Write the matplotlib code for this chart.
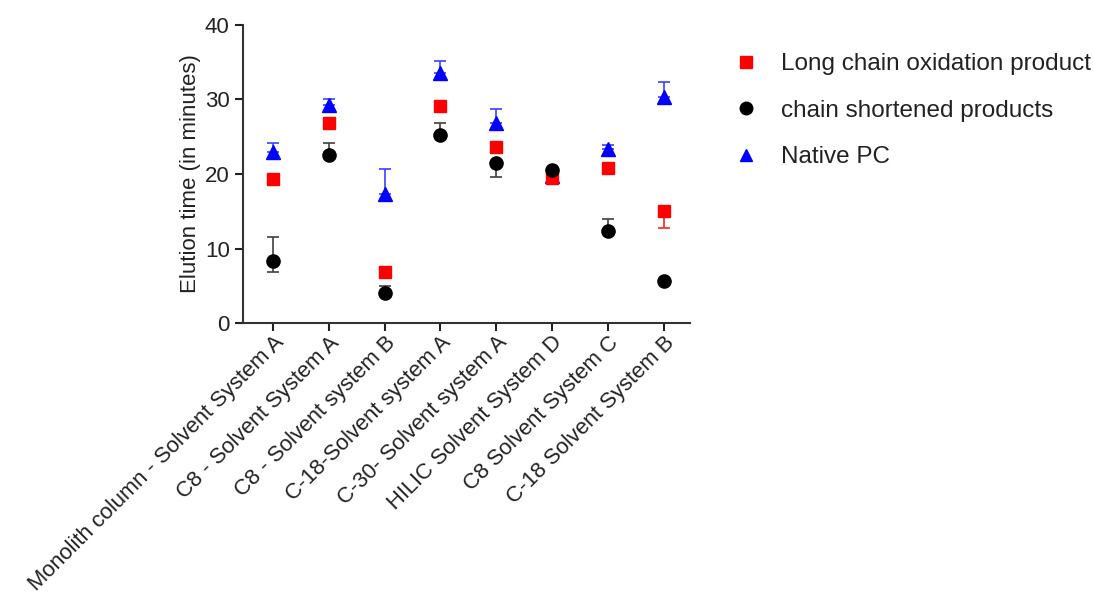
import matplotlib
matplotlib.use('Agg')
from matplotlib import pyplot as plt
import numpy as np

plt.rcParams['font.family'] = ['Liberation Sans', 'DejaVu Sans']

# columns / solvent systems
columns = ['Monolith column - Solvent System A', 'C8 - Solvent System A',
           'C8 - Solvent system B', 'C-18-Solvent system A',
           'C-30- Solvent system A', 'HILIC Solvent System D',
           'C8 Solvent System C', 'C-18 Solvent System B']

# elution times (minutes)
long_chain = [19.4, 26.9, 6.8, 29.1, 23.6, 19.5, 20.8, 15.0]
long_chain_lo = [0.0, 0.0, 0.0, 0.0, 0.0, 0.0, 0.0, 2.3]
long_chain_hi = [0.4, 0.0, 0.0, 0.0, 0.0, 0.0, 0.0, 0.0]

shortened = [8.3, 22.5, 4.0, 25.2, 21.5, 20.5, 12.4, 5.6]
shortened_lo = [1.4, 0.0, 0.0, 0.0, 1.9, 0.0, 0.0, 0.0]
shortened_hi = [3.2, 1.7, 1.0, 1.6, 0.0, 0.0, 1.6, 0.0]

native = [23.0, 29.3, 17.3, 33.6, 26.9, 19.7, 23.4, 30.3]
native_lo = [0.0, 0.0, 0.0, 0.0, 0.0, 0.0, 0.0, 0.0]
native_hi = [1.2, 0.8, 3.4, 1.5, 1.8, 0.0, 0.5, 2.1]


def main():
    x = np.arange(len(columns))
    fig = plt.figure(figsize=(10.94, 5.94), dpi=100)
    ax = fig.add_axes([0.222, 0.456, 0.409, 0.502])

    ax.errorbar(x, native, yerr=[native_lo, native_hi], fmt='^', color='#0000ff',
                ecolor='#4040ff', markersize=9.5, capsize=4.5, elinewidth=1.2,
                capthick=1.2, label='Native PC', zorder=3)
    ax.errorbar(x, long_chain, yerr=[long_chain_lo, long_chain_hi], fmt='s',
                color='#ff0000', ecolor='#ff2020', markersize=9, capsize=4.5,
                elinewidth=1.2, capthick=1.2,
                label='Long chain oxidation product', zorder=4)
    ax.errorbar(x, shortened, yerr=[shortened_lo, shortened_hi], fmt='o',
                color='black', ecolor='#404040', markersize=9.5, capsize=4.5,
                elinewidth=1.2, capthick=1.2,
                label='chain shortened products', zorder=5)

    ax.set_xlim(-0.54, 7.48)
    ax.set_ylim(0, 40)
    ax.set_yticks([0, 10, 20, 30, 40])
    ax.set_xticks(x)
    ax.set_xticklabels(columns, rotation=45, ha='right', rotation_mode='anchor')
    ax.set_ylabel('Elution time (in minutes)', fontsize=16, color='#222222',
                  labelpad=3)
    ax.tick_params(labelsize=16, colors='#222222', length=6, width=1.5)
    ax.tick_params(axis='x', pad=0.5, labelsize=15.8)
    ax.spines['top'].set_visible(False)
    ax.spines['right'].set_visible(False)
    for s in ['left', 'bottom']:
        ax.spines[s].set_linewidth(1.5)
        ax.spines[s].set_color('#333333')

    handles, labels = ax.get_legend_handles_labels()
    order = [1, 2, 0]
    fig.legend([handles[i][0] for i in order], [labels[i] for i in order],
               loc='upper left', bbox_to_anchor=(0.651, 0.947), frameon=False,
               fontsize=17.5, labelspacing=1.0, markerscale=0.95,
               handlelength=1.0, handletextpad=0.95, labelcolor='#222222')

    fig.savefig('out.png', dpi=100)


if __name__ == '__main__':
    main()
